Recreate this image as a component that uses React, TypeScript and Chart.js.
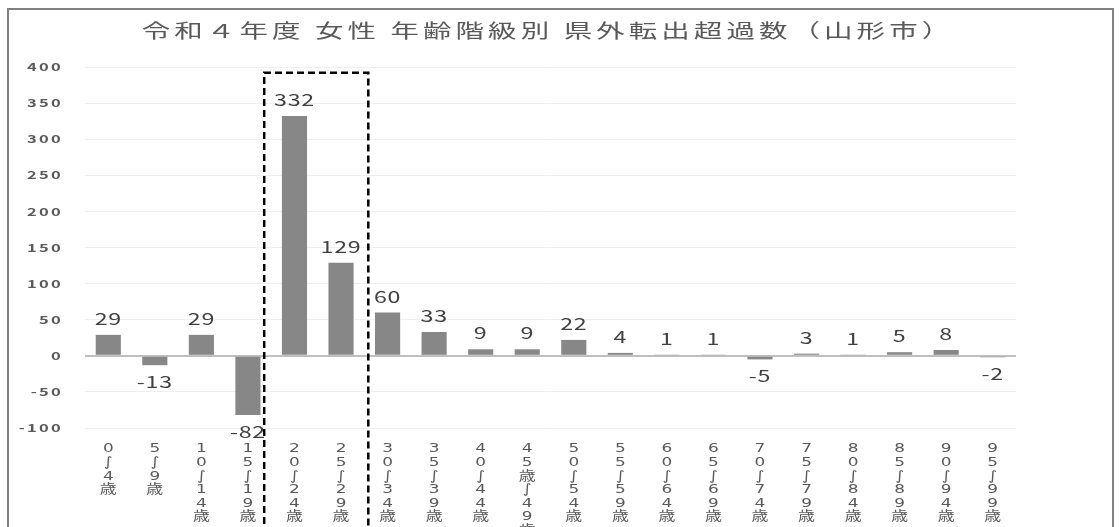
import React, { useEffect, useRef } from "react";
import { Chart, registerables } from "chart.js";

Chart.register(...registerables);

const TITLE = "令和４年度 女性 年齢階級別 県外転出超過数（山形市）";
const CATEGORIES = [
  "0〜4歳", "5〜9歳", "10〜14歳", "15〜19歳", "20〜24歳", "25〜29歳", "30〜34歳",
  "35〜39歳", "40〜44歳", "45歳〜49歳", "50〜54歳", "55〜59歳", "60〜64歳", "65〜69歳",
  "70〜74歳", "75〜79歳", "80〜84歳", "85〜89歳", "90〜94歳", "95〜99歳",
];
const VALUES = [29, -13, 29, -82, 332, 129, 60, 33, 9, 9, 22, 4, 1, 1, -5, 3, 1, 5, 8, -2];
const Y_MIN = -100;
const Y_MAX = 400;
const Y_STEP = 50;
const HIGHLIGHT_FROM = 4; // 20〜24歳
const HIGHLIGHT_TO = 5; // 25〜29歳
const HIGHLIGHT_TOP = 392;

const FONT = "'Noto Sans CJK JP', 'DejaVu Sans', sans-serif";
const LABEL_FONT = "'DejaVu Sans', 'Noto Sans CJK JP', sans-serif";

// horizontal text stretch [scaleX, letterSpacing] by font size
const TEXT_STRETCH: Record<string, [number, number]> = {
  "19": [1.5, 2.7],
  "16": [1.45, 0.5],
  "13": [1.3, 0],
  "11": [1.5, 1.5],
};

function patchContext(ctx: any) {
  const fill = ctx.fillText.bind(ctx);
  const measure = ctx.measureText.bind(ctx);
  const factor = (): [number, number] => {
    const m = /(\d+(?:\.\d+)?)px/.exec(ctx.font);
    if (!m) return [1, 0];
    const k = String(Math.round(parseFloat(m[1])));
    return TEXT_STRETCH[k] || [1, 0];
  };
  ctx.fillText = (t: string, x: number, y: number) => {
    const [sx, ls] = factor();
    ctx.save();
    ctx.letterSpacing = ls + "px";
    ctx.translate(x, y);
    ctx.scale(sx, 1);
    fill(t, 0, 0);
    ctx.restore();
  };
  ctx.measureText = (t: string) => {
    const [sx, ls] = factor();
    const prev = ctx.letterSpacing;
    ctx.letterSpacing = ls + "px";
    const m = measure(t);
    ctx.letterSpacing = prev;
    return {
      width: m.width * sx,
      actualBoundingBoxAscent: m.actualBoundingBoxAscent,
      actualBoundingBoxDescent: m.actualBoundingBoxDescent,
      actualBoundingBoxLeft: m.actualBoundingBoxLeft * sx,
      actualBoundingBoxRight: m.actualBoundingBoxRight * sx,
      fontBoundingBoxAscent: m.fontBoundingBoxAscent,
      fontBoundingBoxDescent: m.fontBoundingBoxDescent,
    };
  };
}

const titlePlugin = {
  id: "titleText",
  afterDraw(chart: any) {
    const ctx = chart.ctx;
    ctx.save();
    ctx.font = `19px ${FONT}`;
    ctx.fillStyle = "#595959";
    ctx.textAlign = "center";
    ctx.textBaseline = "middle";
    ctx.fillText(TITLE, 548, 31);
    ctx.restore();
  },
};

const valueLabels = {
  id: "valueLabels",
  afterDatasetsDraw(chart: any) {
    const ctx = chart.ctx;
    const meta = chart.getDatasetMeta(0);
    ctx.save();
    ctx.font = `16px ${FONT}`;
    ctx.fillStyle = "#404040";
    ctx.textAlign = "center";
    ctx.textBaseline = "middle";
    meta.data.forEach((bar: any, i: number) => {
      const v = VALUES[i];
      const y = v >= 0 ? bar.y - 16 : bar.y + 17;
      ctx.fillText(String(v), bar.x, y);
    });
    ctx.restore();
  },
};

const frame = {
  id: "frame",
  afterDraw(chart: any) {
    const ctx = chart.ctx;
    const xs = chart.scales.x;
    const ys = chart.scales.y;
    ctx.save();
    ctx.strokeStyle = "#808080";
    ctx.lineWidth = 2;
    ctx.strokeRect(8, 9, 1105, 700);
    const left = (xs.getPixelForValue(HIGHLIGHT_FROM - 1) + xs.getPixelForValue(HIGHLIGHT_FROM)) / 2 - 7;
    const right = (xs.getPixelForValue(HIGHLIGHT_TO) + xs.getPixelForValue(HIGHLIGHT_TO + 1)) / 2 + 4;
    const top = ys.getPixelForValue(HIGHLIGHT_TOP);
    ctx.strokeStyle = "#000000";
    ctx.lineWidth = 2.5;
    ctx.setLineDash([7, 4]);
    ctx.beginPath();
    ctx.moveTo(left, 700);
    ctx.lineTo(left, top);
    ctx.lineTo(right, top);
    ctx.lineTo(right, 700);
    ctx.stroke();
    ctx.restore();
  },
};

export default function App() {
  const ref = useRef<HTMLCanvasElement>(null);
  useEffect(() => {
    const canvas = ref.current!;
    const ctx = canvas.getContext("2d")!;
    patchContext(ctx);
    const chart = new Chart(canvas, {
      type: "bar",
      data: {
        labels: CATEGORIES,
        datasets: [
          {
            data: VALUES,
            backgroundColor: "#878787",
            barPercentage: 0.54,
            categoryPercentage: 1,
          },
        ],
      },
      options: {
        responsive: false,
        animation: false,
        layout: { padding: { left: 10, right: 103, top: 67, bottom: 0 } },
        plugins: {
          legend: { display: false },
          tooltip: { enabled: false },
          title: { display: false },
        },
        scales: {
          x: {
            grid: { display: false },
            border: { display: false },
            ticks: {
              autoSkip: false,
              maxRotation: 0,
              minRotation: 0,
              padding: 6,
              color: "#595959",
              font: { family: LABEL_FONT, size: 13, lineHeight: 1.05 },
              callback: (_v: any, i: number) => CATEGORIES[i].replace(/〜/g, "∫").split(""),
            },
            afterFit: (s: any) => {
              s.height = 99;
            },
          },
          y: {
            min: Y_MIN,
            max: Y_MAX,
            border: { display: false },
            grid: {
              drawTicks: false,
              color: (c: any) => (c.tick && c.tick.value === 0 ? "#bfbfbf" : "#efefef"),
              lineWidth: (c: any) => (c.tick && c.tick.value === 0 ? 2 : 1),
            },
            ticks: {
              stepSize: Y_STEP,
              padding: 22,
              color: "#595959",
              font: { family: FONT, size: 11, weight: "bold" },
            },
            afterFit: (s: any) => {
              s.width = 75;
            },
          },
        },
      },
      plugins: [valueLabels, frame, titlePlugin],
    });
    return () => chart.destroy();
  }, []);
  return (
    <div style={{ position: "fixed", left: 0, top: 0, width: 1119, height: 527, background: "#ffffff" }}>
      <canvas ref={ref} width={1119} height={527} style={{ width: 1119, height: 527 }} />
    </div>
  );
}
